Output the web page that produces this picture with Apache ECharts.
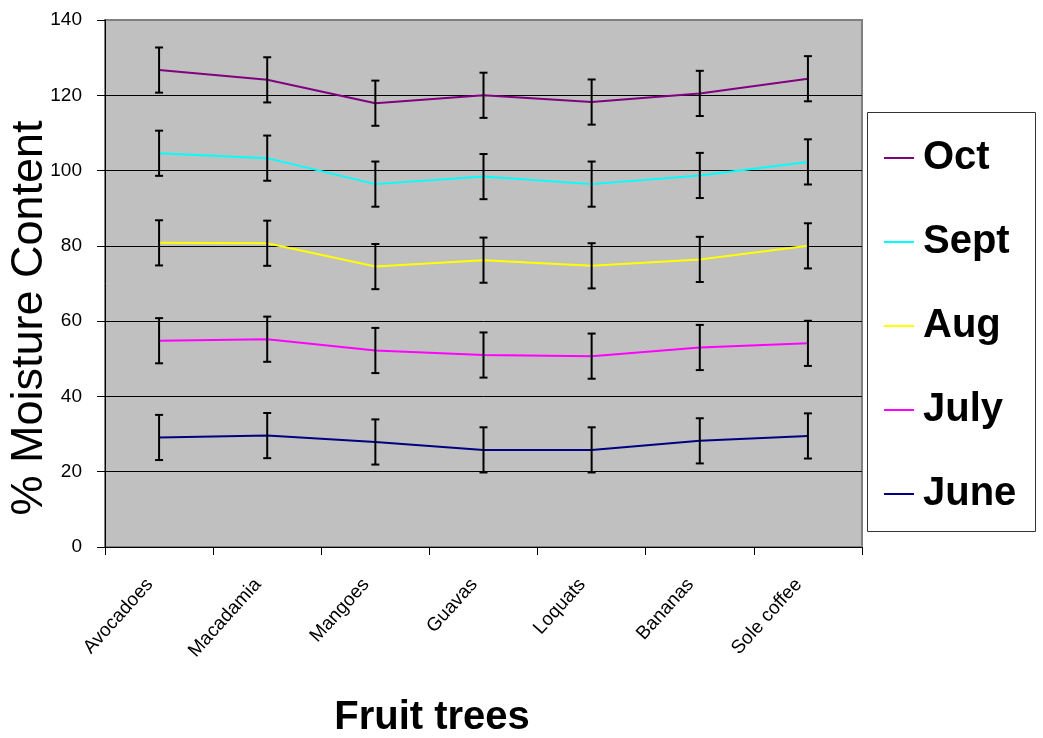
<!DOCTYPE html>
<html>
<head>
<meta charset="utf-8">
<script src="https://cdn.jsdelivr.net/npm/echarts@6/dist/echarts.min.js"></script>
<style>
html,body{margin:0;padding:0;background:#fff;}
#c{width:1043px;height:738px;}
</style>
</head>
<body>
<div id="c"></div>
<script>
// ---- data ----
const categories = ['Avocadoes','Macadamia','Mangoes','Guavas','Loquats','Bananas','Sole coffee'];
const yTicks = [0, 20, 40, 60, 80, 100, 120, 140];
const octVals  = [126.7, 124.1, 117.9, 120.0, 118.2, 120.5, 124.4];
const septVals = [104.6, 103.3, 96.4, 98.4, 96.4, 98.7, 102.3];
const augVals  = [80.8, 80.7, 74.5, 76.2, 74.7, 76.4, 80.0];
const julyVals = [54.8, 55.2, 52.2, 51.0, 50.7, 53.0, 54.1];
const juneVals = [29.1, 29.6, 27.9, 25.8, 25.8, 28.2, 29.5];
const octErr  = [6, 6, 6, 6, 6, 6, 6];
const septErr = [6, 6, 6, 6, 6, 6, 6];
const augErr  = [6, 6, 6, 6, 6, 6, 6];
const julyErr = [6, 6, 6, 6, 6, 6, 6];
const juneErr = [6, 6, 6, 6, 6, 6, 6];
const seriesNames = ['Oct', 'Sept', 'Aug', 'July', 'June'];
const xTitle = 'Fruit trees';
const yTitle = '% Moisture Content';

// ---- build ----
const FONT = "'Liberation Sans', Arial, sans-serif";
const colors = {Oct:'#800080', Sept:'#00FFFF', Aug:'#FFFF00', July:'#FF00FF', June:'#000080'};
const vals = {Oct:octVals, Sept:septVals, Aug:augVals, July:julyVals, June:juneVals};
const errs = {Oct:octErr, Sept:septErr, Aug:augErr, July:julyErr, June:juneErr};

function renderErr(params, api) {
  const i = api.value(0);
  const lo = api.coord([i, api.value(1)]);
  const hi = api.coord([i, api.value(2)]);
  const cap = 4;
  const st = {stroke:'#000', lineWidth:2};
  return {
    type:'group',
    children:[
      {type:'line', shape:{x1:lo[0], y1:lo[1], x2:hi[0], y2:hi[1]}, style:st},
      {type:'line', shape:{x1:lo[0]-cap, y1:lo[1], x2:lo[0]+cap, y2:lo[1]}, style:st},
      {type:'line', shape:{x1:hi[0]-cap, y1:hi[1], x2:hi[0]+cap, y2:hi[1]}, style:st}
    ]
  };
}

const series = [];
seriesNames.forEach(function(n){
  series.push({
    name:n, type:'line', data:vals[n], symbol:'none', showSymbol:false,
    lineStyle:{color:colors[n], width:2}, itemStyle:{color:colors[n]},
    z:3, animation:false
  });
});
seriesNames.forEach(function(n){
  series.push({
    name:n + ' error', type:'custom', renderItem:renderErr,
    data:vals[n].map(function(v, i){ return [i, v - errs[n][i], v + errs[n][i]]; }),
    z:4, animation:false, silent:true
  });
});

const chart = echarts.init(document.getElementById('c'), null, {renderer:'canvas'});
chart.setOption({
  animation:false,
  backgroundColor:'#fff',
  textStyle:{fontFamily:FONT},
  grid:{left:105, top:20, right:181, bottom:191, show:true, backgroundColor:'#C0C0C0', borderColor:'#808080', borderWidth:2, containLabel:false},
  xAxis:{
    type:'category', data:categories, boundaryGap:true,
    axisLine:{lineStyle:{color:'#000', width:1}},
    axisTick:{show:true, length:8, lineStyle:{color:'#000'}},
    axisLabel:{rotate:48, margin:24, fontSize:19, color:'#000', fontFamily:FONT, interval:0, padding:[0,14,0,0]},
    splitLine:{show:false}
  },
  yAxis:{
    type:'value', min:yTicks[0], max:yTicks[yTicks.length-1], interval:yTicks[1]-yTicks[0],
    axisLine:{show:true, lineStyle:{color:'#000', width:1}},
    axisTick:{show:true, length:8, lineStyle:{color:'#000'}},
    axisLabel:{fontSize:19, color:'#000', margin:23, fontFamily:FONT},
    splitLine:{show:true, showMaxLine:false, lineStyle:{color:'#000', width:1}}
  },
  legend:{
    data:seriesNames, orient:'vertical', left:867, top:112,
    icon:'rect', itemWidth:30, itemHeight:2, itemGap:44,
    padding:[26, 26, 19, 17],
    textStyle:{fontSize:40, fontWeight:'bold', color:'#000', fontFamily:FONT, lineHeight:40, padding:[0,0,0,4]},
    z:10
  },
  graphic:[
    {type:'rect', shape:{x:867.5, y:112.5, width:168, height:419}, style:{fill:'#fff', stroke:'#333', lineWidth:1}, z:1},
    {type:'text', x:30, y:318, rotation:Math.PI/2, style:{text:yTitle, fontSize:45, fontFamily:FONT, fill:'#000', textAlign:'center', textVerticalAlign:'middle'}},
    {type:'text', x:432, y:718, style:{text:xTitle, fontSize:40, fontWeight:'bold', fontFamily:FONT, fill:'#000', textAlign:'center', textVerticalAlign:'middle'}}
  ],
  series:series
});
</script>
</body>
</html>
